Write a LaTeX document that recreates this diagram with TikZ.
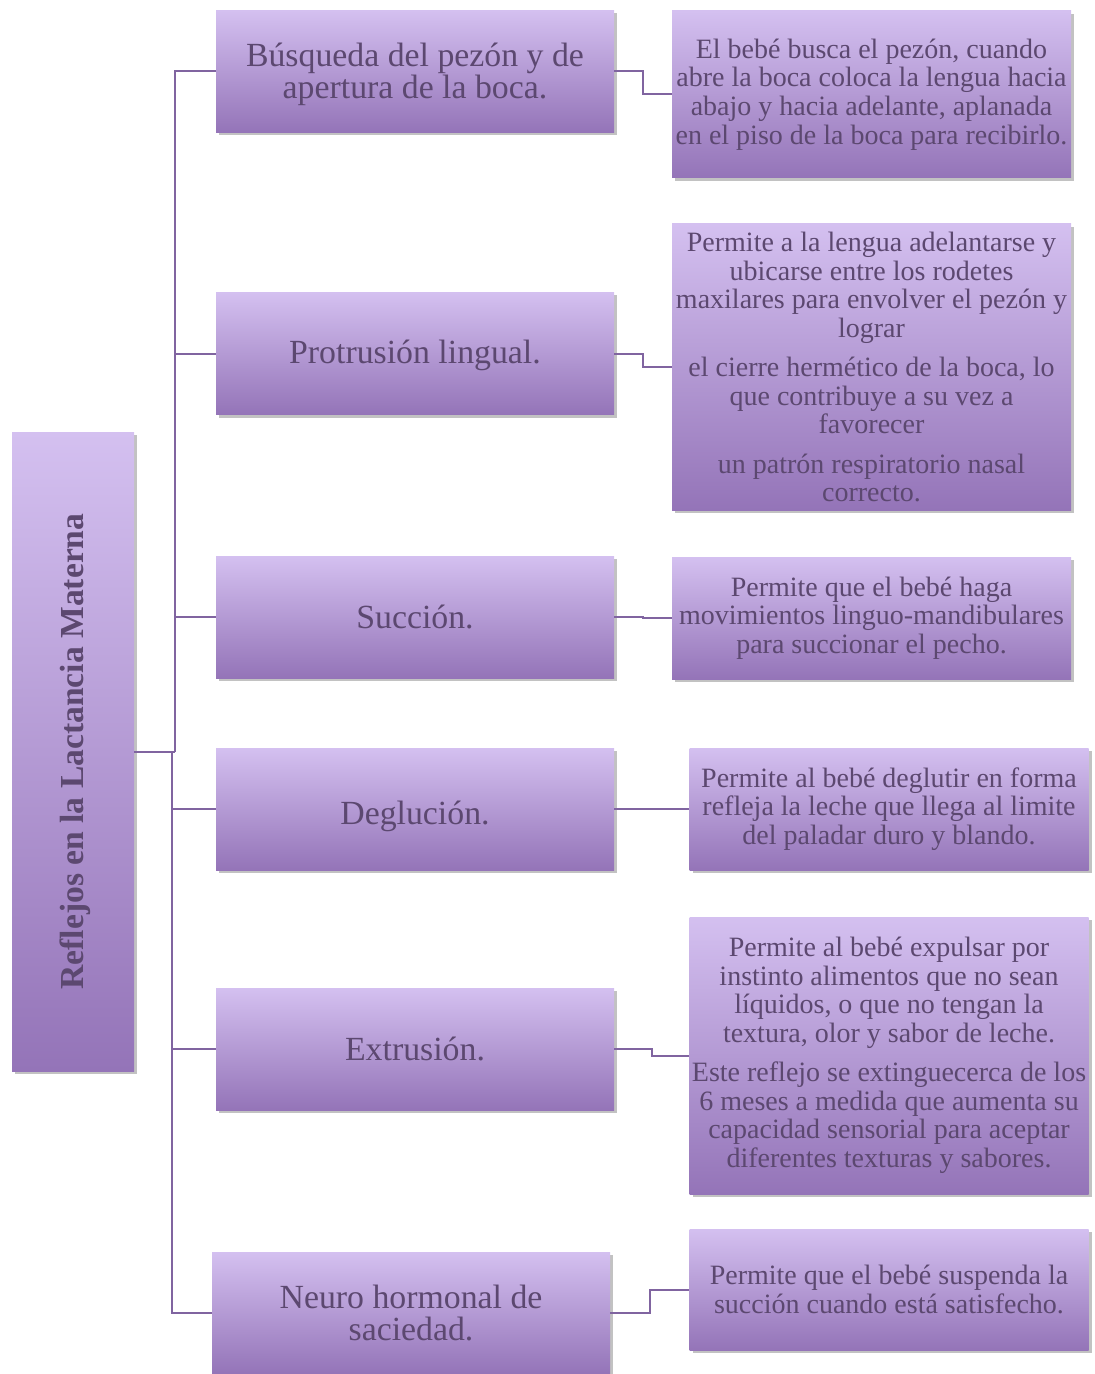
\documentclass[tikz,border=0pt]{standalone}
\usepackage{fontspec}
\setmainfont{Liberation Serif}
\usepackage{tikz}
\usetikzlibrary{calc,shadows}
\definecolor{lilatop}{RGB}{212,192,240}
\definecolor{lilabot}{RGB}{148,116,184}
\definecolor{lilaline}{RGB}{128,100,160}
\definecolor{lilatext}{RGB}{92,72,112}
\tikzset{
	lilabox/.style={rectangle, top color=lilatop, bottom color=lilabot, draw=none,
		drop shadow={shadow xshift=1.5pt, shadow yshift=-1.5pt, opacity=.4, fill=black!60},
		text=lilatext, align=center, inner sep=0pt},
	midbox/.style={lilabox, minimum width=199pt, minimum height=61pt,
		font=\fontsize{16.9}{16}\selectfont},
	infobox/.style={lilabox, minimum width=199.5pt,
		font=\fontsize{14}{14.25}\selectfont},
	link/.style={draw=lilaline, line width=1pt}
}
\begin{document}
\begin{tikzpicture}[x=0.5pt,y=-0.5pt]
			\useasboundingbox (0,0) rectangle (1094,1374);
			
			\node[lilabox, minimum width=61pt, minimum height=319.5pt] (root) at (73,751.5) {};
			\node[rotate=90, text=lilatext, font=\fontsize{16.8}{18}\selectfont\bfseries] at ([xshift=1pt]root) {Reflejos en la Lactancia Materna};
			
			\node[midbox] (m1) at (415,71.5) {\rule{0pt}{15pt}Búsqueda del pezón y de\\apertura de la boca.};
			\node[midbox] (m2) at (415,353.5) {\rule{0pt}{14pt}Protrusión lingual.};
			\node[midbox] (m3) at (415,617) {Succión.};
			\node[midbox] (m4) at (415,809) {\rule{0pt}{19.5pt}Deglución.};
			\node[midbox] (m5) at (415,1049) {Extrusión.};
			\node[midbox] (m6) at (411,1313) {Neuro hormonal de\\saciedad.};
			
			\node[infobox, minimum height=83.5pt] (r1) at (871.5,94.5) {El bebé busca el pezón, cuando\\abre la boca coloca la lengua hacia\\abajo y hacia adelante, aplanada\\en el piso de la boca para recibirlo.};
			\node[infobox, minimum height=143pt] (r2) at (871.5,367) {Permite a la lengua adelantarse y\\ubicarse entre los rodetes\\maxilares para envolver el pezón y\\lograr\\[5.5pt]el cierre hermético de la boca, lo\\que contribuye a su vez a\\favorecer\\[5.5pt]un patrón respiratorio nasal\\correcto.};
			\node[infobox, minimum height=61pt] (r3) at (871.5,618) {Permite que el bebé haga\\movimientos linguo-mandibulares\\para succionar el pecho.};
			\node[infobox, minimum height=61pt] (r4) at (889,809) {Permite al bebé deglutir en forma\\refleja la leche que llega al limite\\del paladar duro y blando.};
			\node[infobox, minimum height=138.5pt] (r5) at (889,1055.5) {Permite al bebé expulsar por\\instinto alimentos que no sean\\líquidos, o que no tengan la\\textura, olor y sabor de leche.\\[5.5pt]Este reflejo se extinguecerca de los\\6 meses a medida que aumenta su\\capacidad sensorial para aceptar\\diferentes texturas y sabores.};
			\node[infobox, minimum height=60.5pt] (r6) at (889,1289.5) {Permite que el bebé suspenda la\\succión cuando está satisfecho.};
			
			% tronco
			\draw[link] (root.east) -- ++(41,0) coordinate(hub);
			\coordinate (hubb) at ($(hub)+(-3,0)$);
			\foreach \m in {m1,m2,m3}
				\draw[link] (\m.west) -| (hub);
			\foreach \m in {m4,m5,m6}
				\draw[link] (\m.west) -| (hubb);
			
			% ramas
			\foreach \i in {1,...,6}
				\draw[link] (m\i.east) -| ($(m\i.east)!.5!(r\i.west)$) |- (r\i.west);
		\end{tikzpicture}
\end{document}
